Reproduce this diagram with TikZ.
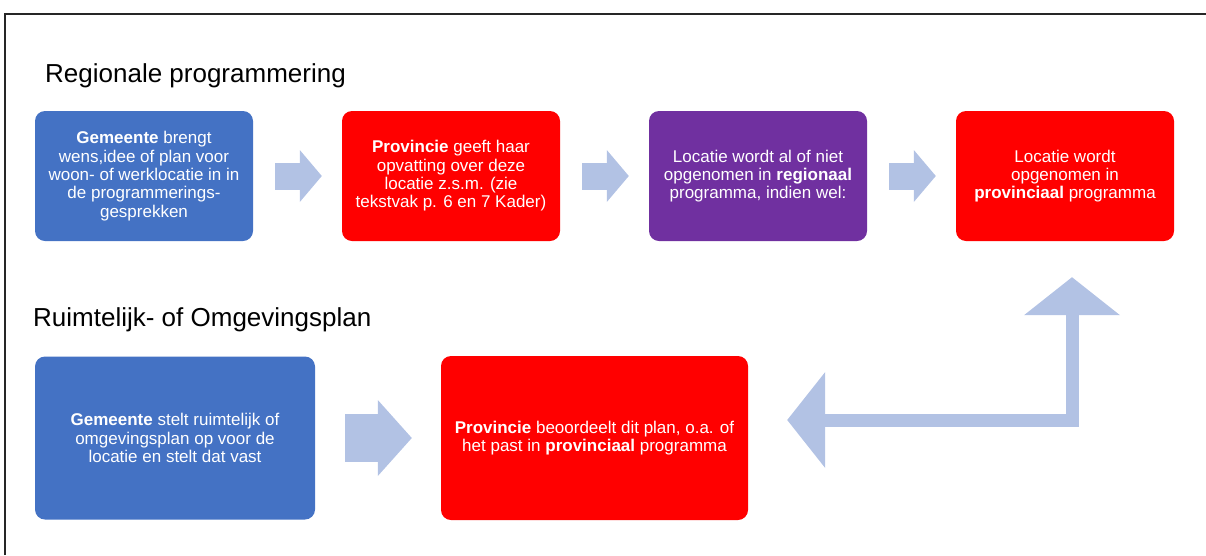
\documentclass[tikz,border=0pt]{standalone}
\usepackage{fontspec}
\setmainfont{Liberation Sans}
\usetikzlibrary{arrows.meta}
\definecolor{gemblue}{HTML}{4472C4}
\definecolor{provred}{HTML}{FF0000}
\definecolor{regpurple}{HTML}{7030A0}
\definecolor{flowblue}{RGB}{178,194,228}

\begin{document}
\begin{tikzpicture}[x=1pt, y=-1pt, node distance=307pt,
  box/.style={rounded corners=10pt, text=white, align=center, inner sep=0pt,
    font=\fontsize{17pt}{18.3pt}\selectfont},
  rowbox/.style={box, minimum width=218pt, minimum height=130pt},
  heading/.style={anchor=base west, inner sep=0pt, font=\fontsize{26pt}{30pt}\selectfont},
  flow/.style={draw=flowblue, line width=27pt,
    -{Triangle[width=52pt, length=22pt, line width=0pt]}, shorten <=22pt, shorten >=20pt},
  bigflow/.style={draw=flowblue, line width=48pt,
    -{Triangle[width=76pt, length=34pt, line width=0pt]}, shorten <=30pt, shorten >=29pt},
  bentflow/.style={draw=flowblue, line width=13pt,
    {Triangle[width=96pt, length=38pt, line width=0pt]}-{Triangle[width=96pt, length=38pt, line width=0pt]}}]
  \useasboundingbox (0,0) rectangle (1206,555);
  \draw[line width=1.6pt, black!85] (5,555) -- (5,14) -- (1206,14);

  \node(h1)[heading] at (45,82) {Regionale programmering};
  \node(h2)[heading] at (33,326) {Ruimtelijk- of Omgevingsplan};

  \node(g1)[rowbox, fill=gemblue] at (144,176) {\textbf{Gemeente} brengt\\ wens,idee of plan voor\\ woon- of werklocatie in in\\ de programmerings-\\ gesprekken};
  \node(p1)[rowbox, fill=provred, right of=g1] {\textbf{Provincie} geeft haar\\ opvatting over deze\\ locatie z.s.m. (zie\\ tekstvak p. 6 en 7 Kader)};
  \node(r1)[rowbox, fill=regpurple, right of=p1] {Locatie wordt al of niet\\ opgenomen in \textbf{regionaal}\\ programma, indien wel:};
  \node(p2)[rowbox, fill=provred, right of=r1] {Locatie wordt\\ opgenomen in\\ \textbf{provinciaal} programma};

  \node(g2)[box, fill=gemblue, minimum width=280pt, minimum height=163pt] at (175,438) {\textbf{Gemeente} stelt ruimtelijk of\\ omgevingsplan op voor de\\ locatie en stelt dat vast};
  \node(p3)[box, fill=provred, minimum width=307pt, minimum height=164pt, right of=g2, node distance=419.5pt] {\textbf{Provincie} beoordeelt dit plan, o.a. of\\ het past in \textbf{provinciaal} programma};
  \coordinate(knee) at (1072,420);

  \draw[flow] (g1) -- (p1);
  \draw[flow] (p1) -- (r1);
  \draw[flow] (r1) -- (p2);
  \draw[bigflow] (g2) -- (p3);
  \draw[bentflow, shorten <=39pt, shorten >=36pt] (p3.east |- knee) -- (knee) -- (p2.south -| knee);
\end{tikzpicture}
\end{document}
